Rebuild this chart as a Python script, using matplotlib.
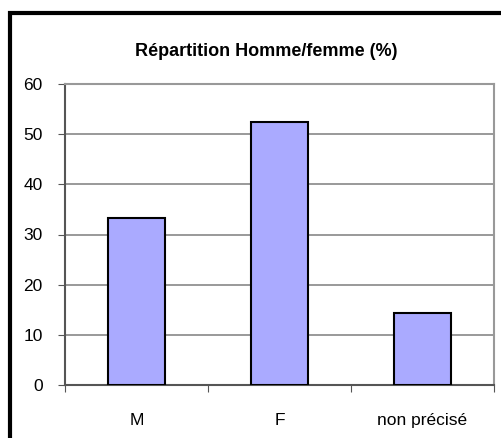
import matplotlib.pyplot as plt
from matplotlib.patches import Rectangle

categories = ["M", "F", "non précisé"]
values = [33.3, 52.4, 14.3]
yticks = [0, 10, 20, 30, 40, 50, 60]

plt.rcParams['font.family'] = ['Liberation Sans', 'DejaVu Sans']

W, H = 501, 438
fig = plt.figure(figsize=(W / 100, H / 100), dpi=100)
ax = fig.add_axes([65 / W, 1 - 385 / H, (494 - 65) / W, (385 - 84) / H])

x = list(range(len(categories)))
ax.bar(x, values, width=0.4, color="#aaaaff", edgecolor="black", linewidth=1.5, zorder=3)

ax.set_xlim(-0.5, 2.5)
ax.set_ylim(0, 60)
ax.set_yticks(yticks)
ax.yaxis.grid(True, color="#888888", linewidth=1.2, zorder=0)

# ticks between categories, labels at centers
ax.set_xticks([-0.5, 0.5, 1.5, 2.5])
ax.set_xticklabels([])
ax.set_xticks(x, minor=True)
ax.set_xticklabels(categories, minor=True, fontsize=12.5)
ax.tick_params(axis="x", which="minor", length=0, pad=20)
ax.tick_params(axis="x", which="major", length=5, direction="out", color="#555555")
ax.tick_params(axis="y", length=5, direction="out", color="#555555", labelsize=12.5, pad=11)

for side in ["left", "bottom"]:
    ax.spines[side].set_color("#555555")
    ax.spines[side].set_linewidth(1.5)
for side in ["top", "right"]:
    ax.spines[side].set_color("#999999")
    ax.spines[side].set_linewidth(1.5)

fig.text(266 / W, 1 - 52 / H, "Répartition Homme/femme (%)", ha="center", va="center",
         fontsize=13, fontweight="bold")

# outer frame (cropped at right and bottom)
fig.patches.append(Rectangle((10 / W, -0.1), 1.2, 1 - 13 / H + 0.1, transform=fig.transFigure,
                             fill=False, edgecolor="black", linewidth=3))

fig.savefig("out.png", dpi=100)
